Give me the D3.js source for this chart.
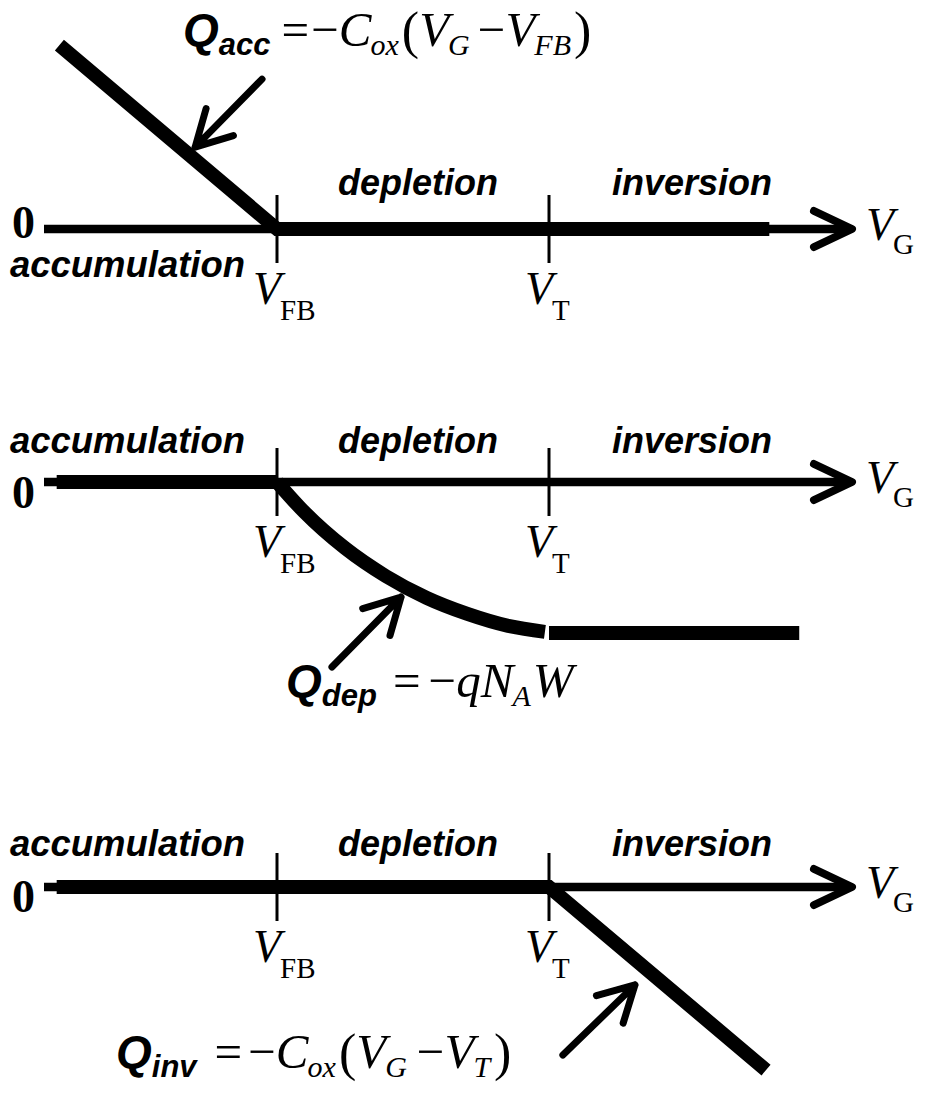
<!DOCTYPE html>
<html>
<head>
<meta charset="utf-8">
<script src="https://cdn.jsdelivr.net/npm/d3@7"></script>
<style>
body { margin: 0; background: #fff; }
.serif { font-family: "Liberation Serif", "Times New Roman", serif; }
.it { font-style: italic; }
.sans { font-family: "Liberation Sans", Arial, sans-serif; font-weight: bold; font-style: italic; }
</style>
</head>
<body>
<svg id="chart" width="933" height="1096"></svg>
<script>
// gate voltage in units where V_FB = 0 and V_T = 1, charge in the same units (up = positive)
const thresholds = [0, 1];
const thresholdSubs = ["FB", "T"];
const regions = ["accumulation", "depletion", "inversion"];

// accumulation charge
const accVG = [-0.80, 0, 1.81];
const accQ = [0.676, 0, 0];
const accPointer = [[-0.055, 0.551], [-0.301, 0.301]];

// depletion charge
const depZeroVG = [-0.81, 0];
const depZeroQ = [0, 0];
const depCurveVG = [0, 0.10, 0.25, 0.40, 0.55, 0.70, 0.85, 0.985];
const depCurveQ = [0, -0.110, -0.243, -0.346, -0.426, -0.485, -0.529, -0.551];
const depSatVG = [1.0, 1.92];
const depSatQ = [-0.555, -0.555];
const depPointer = [[0.202, -0.680], [0.456, -0.423]];

// inversion charge
const invVG = [-0.81, 1, 1.798];
const invQ = [0, 0, -0.673];
const invPointer = [[1.051, -0.618], [1.316, -0.360]];

const svg = d3.select("#chart");
const x = d3.scaleLinear().domain([0, 1]).range([277, 549]);
const unit = x(1) - x(0);

const zip = (a, b) => a.map((v, i) => [v, b[i]]);

/**
 * draws a row of text pieces one after the other
 */
function rich(g, x0, y0, segs) {
	let cx = x0;
	segs.forEach(s => {
		cx += (s.dx || 0);
		const t = g.append("text")
			.attr("x", cx)
			.attr("y", y0 + (s.dy || 0))
			.attr("class", s.c)
			.style("font-size", s.size + "px")
			.text(s.t);
		cx += t.node().getComputedTextLength();
	});
}

function drawPanel(p) {
	const g = svg.append("g");
	const y = d3.scaleLinear().domain([0, 1]).range([p.axisY, p.axisY - unit]);
	const line = d3.line().x(d => x(d[0])).y(d => y(d[1]));

	// axis with open arrow head
	g.append("line")
		.attr("x1", 44).attr("x2", 849)
		.attr("y1", p.axisY).attr("y2", p.axisY)
		.attr("stroke", "#000").attr("stroke-width", 8.5);
	g.append("path")
		.attr("d", `M814,${p.axisY - 18}L852,${p.axisY}L814,${p.axisY + 18}`)
		.attr("fill", "none").attr("stroke", "#000").attr("stroke-width", 8)
		.attr("stroke-linecap", "round").attr("stroke-linejoin", "round");

	// charge curves
	p.curves.forEach(c => {
		g.append("path")
			.attr("d", line.curve(c.curve || d3.curveLinear)(c.pts))
			.attr("fill", "none").attr("stroke", "#000").attr("stroke-width", 14)
			.attr("stroke-linejoin", "miter");
	});

	// tick marks at V_FB and V_T
	g.selectAll(".tick").data(thresholds).enter().append("line")
		.attr("x1", d => x(d)).attr("x2", d => x(d))
		.attr("y1", p.axisY - 34).attr("y2", p.axisY + 34)
		.attr("stroke", "#000").attr("stroke-width", 3);

	thresholds.forEach((d, i) => {
		rich(g, x(d) - 24, p.axisY + 75, [
			{ t: "V", c: "serif it", size: 46 },
			{ t: thresholdSubs[i], c: "serif", size: 29, dx: -1, dy: 16 }
		]);
	});

	rich(g, 866, p.axisY + 11, [
		{ t: "V", c: "serif it", size: 46 },
		{ t: "G", c: "serif", size: 29, dx: -1, dy: 14 }
	]);

	g.append("text").attr("class", "serif")
		.attr("x", 12).attr("y", p.zeroY)
		.style("font-size", "46px").style("font-weight", "bold")
		.text("0");

	// region names
	const rx = [10, 338, 612];
	const rw = [235, 160, 160];
	regions.forEach((r, i) => {
		g.append("text").attr("class", "sans")
			.attr("x", rx[i])
			.attr("y", i === 0 && p.accBelow ? p.axisY + 48 : p.labelY)
			.attr("textLength", rw[i])
			.attr("lengthAdjust", "spacingAndGlyphs")
			.style("font-size", "37px")
			.text(r);
	});

	// pointer arrow
	const a = p.pointer.map(d => [x(d[0]), y(d[1])]);
	const ang = Math.atan2(a[0][1] - a[1][1], a[0][0] - a[1][0]);
	const arm = s => [a[1][0] + 40 * Math.cos(ang + s), a[1][1] + 40 * Math.sin(ang + s)];
	const h1 = arm(0.5), h2 = arm(-0.5);
	g.append("path")
		.attr("d", `M${a[0]}L${a[1]}M${h1}L${a[1]}L${h2}`)
		.attr("fill", "none").attr("stroke", "#000").attr("stroke-width", 7)
		.attr("stroke-linecap", "round").attr("stroke-linejoin", "round");

	rich(g, p.fx, p.fy, p.formula);
}

const Q = (sub) => [
	{ t: "Q", c: "sans", size: 46 },
	{ t: sub, c: "sans", size: 31, dx: 0, dy: 9 }
];
const sub = (t) => ({ t: t, c: "serif it", size: 30, dx: -1, dy: 9 });
const v = (t, dx) => ({ t: t, c: "serif it", size: 49, dx: dx || 0 });
const op = (t, dx) => ({ t: t, c: "serif", size: 49, dx: dx || 0 });
const paren = (t, dx) => ({ t: t, c: "serif", size: 52, dx: dx || 0, dy: 2 });

drawPanel({
	axisY: 229, zeroY: 238, labelY: 195, accBelow: true,
	curves: [{ pts: zip(accVG, accQ) }],
	pointer: accPointer,
	fx: 183, fy: 46,
	formula: Q("acc").concat([op("=", 11), op("−", 2), v("C"), sub("ox"), paren("(", 3), v("V"), sub("G"),
		op("−", 8), v("V"), sub("FB"), paren(")", 3)])
});

drawPanel({
	axisY: 482, zeroY: 508, labelY: 453,
	curves: [
		{ pts: zip(depZeroVG, depZeroQ) },
		{ pts: zip(depCurveVG, depCurveQ), curve: d3.curveMonotoneX },
		{ pts: zip(depSatVG, depSatQ) }
	],
	pointer: depPointer,
	fx: 286, fy: 697,
	formula: Q("dep").concat([op("=", 16), op("−", 8), v("q"), v("N"), sub("A"), v("W", 2)])
});

drawPanel({
	axisY: 887, zeroY: 912, labelY: 856,
	curves: [{ pts: zip(invVG, invQ) }],
	pointer: invPointer,
	fx: 116, fy: 1068,
	formula: Q("inv").concat([op("=", 18), op("−", 6), v("C"), sub("ox"), paren("(", 3), v("V"), sub("G"),
		op("−", 10), v("V"), sub("T"), paren(")", 4)])
});
</script>
</body>
</html>
